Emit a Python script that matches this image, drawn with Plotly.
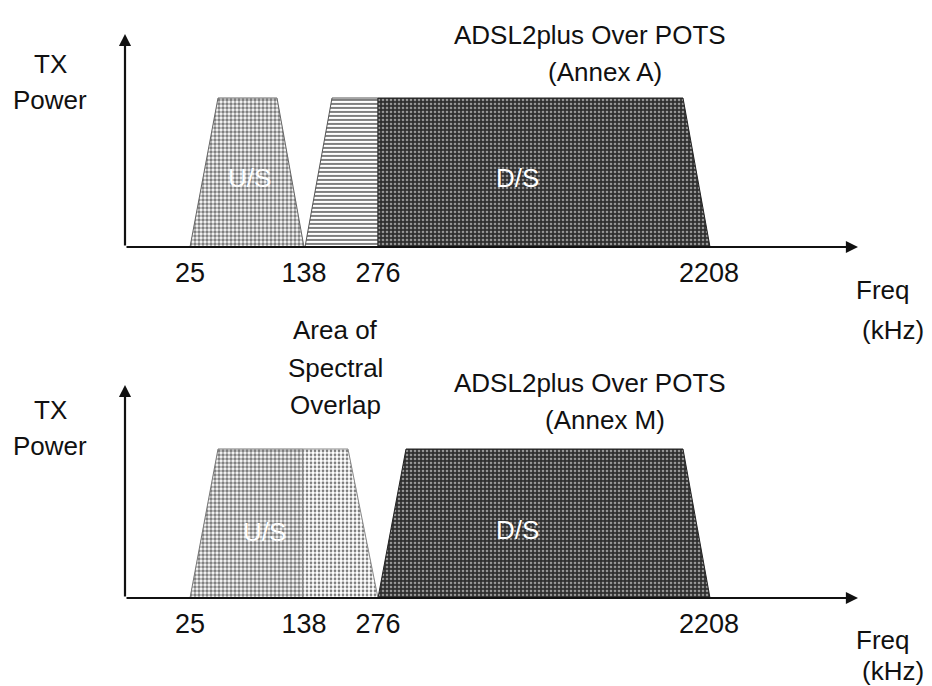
import plotly.graph_objects as go
from plotly.subplots import make_subplots

W, H = 932, 686

# ---- data (schematic) ----
freq_labels = ["25", "138", "276", "2208"]          # kHz tick labels
freq_pos = [65, 179, 253, 584]                      # schematic axis positions
axis_len = 733                                      # x arrow tip (schematic units)
power_max = 1.43                                    # y arrow tip (relative power)

# Annex A band shapes: (x positions, relative power)
annexA_us_x = [65, 93, 152, 179]
annexA_us_y = [0, 1, 1, 0]
annexA_ov_x = [180, 207, 253, 253]
annexA_ov_y = [0, 1, 1, 0]
annexA_ds_x = [253, 253, 558, 585]
annexA_ds_y = [0, 1, 1, 0]

# Annex M band shapes
annexM_us_x = [65, 93, 178, 178]
annexM_us_y = [0, 1, 1, 0]
annexM_ov_x = [178, 178, 223, 253]
annexM_ov_y = [0, 1, 1, 0]
annexM_ds_x = [253, 281, 558, 585]
annexM_ds_y = [0, 1, 1, 0]

FONT = "Liberation Sans, Arial, sans-serif"

fig = make_subplots(rows=2, cols=1)

us_pat = dict(shape=".", fgcolor="#000000", bgcolor="#ffffff", size=4, solidity=0.6)
ovA_pat = dict(shape="-", fgcolor="#000000", bgcolor="#ffffff", size=4, solidity=0.5)
ovM_pat = dict(shape=".", fgcolor="#000000", bgcolor="#ffffff", size=4, solidity=0.38)
ds_pat = dict(shape=".", fgcolor="#ffffff", bgcolor="#2e2e2e", size=4, solidity=0.35)

def band(x, y, pat, row, lc="#444444"):
    fig.add_trace(go.Scatter(x=x, y=y, fill="toself", mode="lines",
                             line=dict(color=lc, width=1),
                             fillpattern=pat, fillcolor="rgba(0,0,0,0)",
                             hoverinfo="skip", showlegend=False), row=row, col=1)

band(annexA_us_x, annexA_us_y, us_pat, 1, "#666666")
band(annexA_ov_x, annexA_ov_y, ovA_pat, 1, "#555555")
band(annexA_ds_x, annexA_ds_y, ds_pat, 1, "#222222")
band(annexM_us_x, annexM_us_y, us_pat, 2, "#777777")
band(annexM_ov_x, annexM_ov_y, ovM_pat, 2, "#888888")
band(annexM_ds_x, annexM_ds_y, ds_pat, 2, "#222222")

x0p, x1p = 125 / W, 858 / W
doms = [(1 - 247 / H, 1 - 247 / H + power_max * 149 / H),
        (1 - 598 / H, 1 - 598 / H + power_max * 149 / H)]

for i, (xa, ya) in enumerate([("xaxis", "yaxis"), ("xaxis2", "yaxis2")]):
    fig.layout[xa].update(domain=[x0p, x1p], range=[0, axis_len], showgrid=False,
                          zeroline=False, showline=False,
                          tickmode="array", tickvals=freq_pos, ticktext=freq_labels,
                          ticks="outside", ticklen=2, tickcolor="rgba(0,0,0,0)",
                          tickfont=dict(family=FONT, size=27, color="#111111"))
    fig.layout[ya].update(domain=list(doms[i]), range=[0, power_max], showgrid=False,
                          zeroline=False, showline=False, showticklabels=False, ticks="")

# axis arrows
for r in (1, 2):
    xr = "x" if r == 1 else "x2"
    yr = "y" if r == 1 else "y2"
    fig.add_annotation(x=axis_len, y=0, ax=0, ay=0, xref=xr, yref=yr, axref=xr, ayref=yr,
                       showarrow=True, arrowhead=2, arrowsize=1.1, arrowwidth=2.2,
                       arrowcolor="#111111", text="")
    fig.add_annotation(x=0, y=power_max, ax=0, ay=0, xref=xr, yref=yr, axref=xr, ayref=yr,
                       showarrow=True, arrowhead=2, arrowsize=1.1, arrowwidth=2.2,
                       arrowcolor="#111111", text="")

def txt(s, px, py, size=26, color="#111111"):
    fig.add_annotation(x=px / W, y=1 - py / H, xref="paper", yref="paper", text=s,
                       showarrow=False, xanchor="center", yanchor="middle",
                       font=dict(family=FONT, size=size, color=color))

txt("TX", 50, 64)
txt("Power", 50, 100)
txt("TX", 50, 410)
txt("Power", 50, 446)
txt("ADSL2plus Over POTS", 590, 35)
txt("(Annex A)", 605, 72)
txt("ADSL2plus Over POTS", 590, 383)
txt("(Annex M)", 605, 420)
txt("Freq", 882, 290)
txt("(kHz)", 893, 330)
txt("Freq", 882, 640)
txt("(kHz)", 893, 671)
txt("Area of", 335, 330)
txt("Spectral", 335, 368)
txt("Overlap", 335, 405)
txt("U/S", 250, 178, color="#ffffff")
txt("D/S", 517, 178, color="#ffffff")
txt("U/S", 264, 532, color="#ffffff")
txt("D/S", 517, 530, color="#ffffff")

fig.update_layout(width=W, height=H, margin=dict(l=0, r=0, t=0, b=0),
                  paper_bgcolor="white", plot_bgcolor="white", showlegend=False)

fig.write_html("out.html", config={"displayModeBar": False, "staticPlot": True},
               post_script="document.body.style.margin='0px';document.body.style.overflow='hidden';")
